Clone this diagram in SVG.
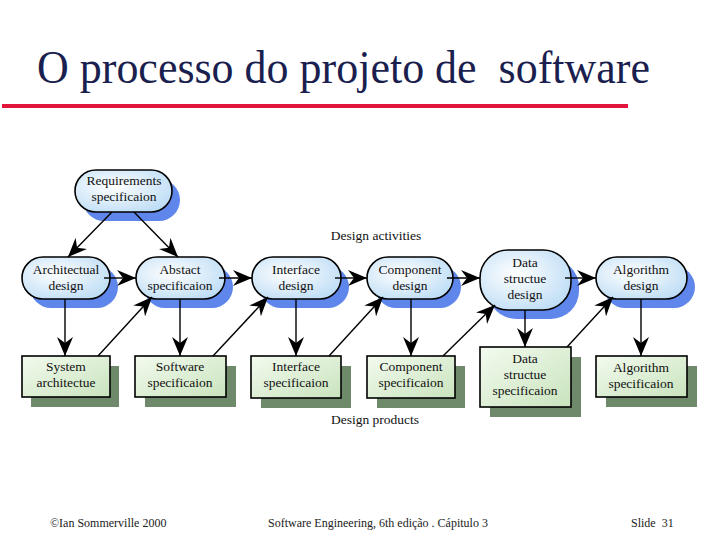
<svg xmlns="http://www.w3.org/2000/svg" width="717" height="538" viewBox="0 0 717 538">
<defs>
<style>
.title{font-family:"Liberation Serif",serif;font-size:46px;fill:#1b1f4f;white-space:pre}
.t{font-family:"Liberation Serif",serif;font-size:13.5px;fill:#111;text-anchor:middle}
.lab{font-family:"Liberation Serif",serif;font-size:13.5px;fill:#111;text-anchor:middle}
.foot{font-family:"Liberation Serif",serif;font-size:12px;fill:#222;white-space:pre}
.act{fill:url(#gb);stroke:#000;stroke-width:1.6}
.ash{fill:#5f86ea}
.prd{fill:url(#gg);stroke:#000;stroke-width:1.6}
.psh{fill:#6f8a6b}
.c{stroke:#000;stroke-width:1.4;fill:none;marker-end:url(#ah)}
</style>
<radialGradient id="gb" cx="0.4" cy="0.4" r="0.7">
<stop offset="0" stop-color="#ffffff"/>
<stop offset="1" stop-color="#bcdcf5"/>
</radialGradient>
<linearGradient id="gg" x1="0" y1="0" x2="1" y2="1">
<stop offset="0" stop-color="#f3fbef"/>
<stop offset="1" stop-color="#c9e3bd"/>
</linearGradient>
<marker id="ah" markerUnits="userSpaceOnUse" markerWidth="20" markerHeight="16" refX="19" refY="8" orient="auto">
<path d="M0,0 L19,8 L0,16 L6,8 z" fill="#000"/>
</marker>
</defs>
<rect width="717" height="538" fill="#fff"/>
<text class="title" x="37" y="83" xml:space="preserve" textLength="613" lengthAdjust="spacingAndGlyphs">O processo do projeto de  software</text>
<rect x="2" y="104" width="626" height="4" fill="#e2143c"/>

<g id="n-req">
<rect class="ash" x="83" y="179" width="97" height="42" rx="21"/>
<rect class="act" x="75" y="170" width="97" height="42" rx="21"/>
<text class="t" x="124" y="185">Requirements</text>
<text class="t" x="124" y="201">specificaion</text>
</g>
<g id="n-arch">
<rect class="ash" x="30" y="266" width="88" height="42" rx="21"/>
<rect class="act" x="22" y="257" width="88" height="42" rx="21"/>
<text class="t" x="66" y="274">Architectual</text>
<text class="t" x="66" y="290">design</text>
</g>
<g id="n-abs">
<rect class="ash" x="144" y="266" width="89" height="42" rx="21"/>
<rect class="act" x="136" y="257" width="89" height="42" rx="21"/>
<text class="t" x="180" y="274">Abstact</text>
<text class="t" x="180" y="290">specificaion</text>
</g>
<g id="n-ifd">
<rect class="ash" x="260" y="266" width="89" height="42" rx="21"/>
<rect class="act" x="252" y="257" width="89" height="42" rx="21"/>
<text class="t" x="296" y="274">Interface</text>
<text class="t" x="296" y="290">design</text>
</g>
<g id="n-cod">
<rect class="ash" x="375" y="266" width="86" height="42" rx="21"/>
<rect class="act" x="367" y="257" width="86" height="42" rx="21"/>
<text class="t" x="410" y="274">Component</text>
<text class="t" x="410" y="290">design</text>
</g>
<g id="n-dsd">
<rect class="ash" x="488" y="259" width="91" height="60" rx="28"/>
<rect class="act" x="480" y="250" width="91" height="60" rx="28"/>
<text class="t" x="525" y="267">Data</text>
<text class="t" x="525" y="283">structue</text>
<text class="t" x="525" y="299">design</text>
</g>
<g id="n-ald">
<rect class="ash" x="604" y="266" width="91" height="42" rx="21"/>
<rect class="act" x="596" y="257" width="91" height="42" rx="21"/>
<text class="t" x="641" y="274">Algorithm</text>
<text class="t" x="641" y="290">design</text>
</g>

<g id="p-sys">
<rect class="psh" x="31" y="366" width="88" height="41"/>
<rect class="prd" x="22" y="356" width="88" height="41"/>
<text class="t" x="66" y="371">System</text>
<text class="t" x="66" y="387">architectue</text>
</g>
<g id="p-sw">
<rect class="psh" x="145" y="366" width="91" height="41"/>
<rect class="prd" x="135" y="356" width="91" height="41"/>
<text class="t" x="180" y="371">Software</text>
<text class="t" x="180" y="387">specificaion</text>
</g>
<g id="p-if">
<rect class="psh" x="261" y="366" width="90" height="42"/>
<rect class="prd" x="251" y="356" width="90" height="42"/>
<text class="t" x="296" y="371">Interface</text>
<text class="t" x="296" y="387">specificaion</text>
</g>
<g id="p-co">
<rect class="psh" x="377" y="366" width="88" height="42"/>
<rect class="prd" x="367" y="356" width="88" height="42"/>
<text class="t" x="411" y="371">Component</text>
<text class="t" x="411" y="387">specificaion</text>
</g>
<g id="p-ds">
<rect class="psh" x="490" y="357" width="91" height="60"/>
<rect class="prd" x="480" y="347" width="91" height="60"/>
<text class="t" x="525" y="363">Data</text>
<text class="t" x="525" y="379">structue</text>
<text class="t" x="525" y="395">specificaion</text>
</g>
<g id="p-al">
<rect class="psh" x="606" y="366" width="91" height="41"/>
<rect class="prd" x="596" y="356" width="91" height="41"/>
<text class="t" x="641" y="372">Algorithm</text>
<text class="t" x="641" y="388">specificaion</text>
</g>

<g id="connectors">
<line class="c" x1="112" y1="212" x2="68" y2="257"/>
<line class="c" x1="134" y1="212" x2="178" y2="257"/>
<line class="c" x1="104" y1="278" x2="136" y2="278"/>
<line class="c" x1="219" y1="278" x2="252" y2="278"/>
<line class="c" x1="335" y1="278" x2="367" y2="278"/>
<line class="c" x1="447" y1="278" x2="480" y2="278"/>
<line class="c" x1="565" y1="278" x2="596" y2="278"/>
<line class="c" x1="65" y1="299" x2="65" y2="356"/>
<line class="c" x1="180" y1="299" x2="180" y2="356"/>
<line class="c" x1="296" y1="299" x2="296" y2="356"/>
<line class="c" x1="411" y1="299" x2="411" y2="356"/>
<line class="c" x1="525" y1="310" x2="525" y2="347"/>
<line class="c" x1="641" y1="299" x2="641" y2="356"/>
<line class="c" x1="98" y1="356" x2="152" y2="297"/>
<line class="c" x1="213" y1="356" x2="268" y2="297"/>
<line class="c" x1="329" y1="356" x2="383" y2="297"/>
<line class="c" x1="443" y1="356" x2="495" y2="305"/>
<line class="c" x1="567" y1="347" x2="613" y2="297"/>
</g>

<text class="lab" x="376" y="240">Design activities</text>
<text class="lab" x="375" y="424">Design products</text>

<text class="foot" x="50" y="527">©Ian Sommerville 2000</text>
<text class="foot" x="268" y="527">Software Engineering, 6th edição . Cápitulo 3</text>
<text class="foot" x="631" y="527" xml:space="preserve">Slide  31</text>
</svg>
